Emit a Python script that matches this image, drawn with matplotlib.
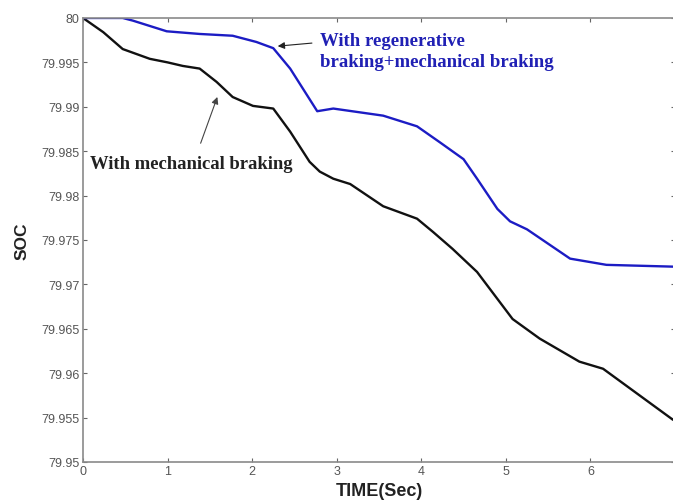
"""SOC over time: regenerative + mechanical braking vs mechanical only."""

import matplotlib
matplotlib.use("Agg")
import matplotlib.pyplot as plt

# Mechanical braking only (black curve)
mech_t = [0.00, 0.24, 0.47, 0.79, 1.00, 1.18, 1.38, 1.58, 1.77, 2.01, 2.25,
          2.45, 2.68, 2.80, 2.96, 3.16, 3.55, 3.95, 4.14, 4.37, 4.66, 5.08,
          5.40, 5.87, 6.15, 6.97]
mech_soc = [80.0000, 79.9984, 79.9965, 79.9954, 79.9950, 79.9946, 79.9943,
            79.9928, 79.9911, 79.9901, 79.9898, 79.9872, 79.9838, 79.9827,
            79.9819, 79.9813, 79.9788, 79.9774, 79.9759, 79.9740, 79.9714,
            79.9661, 79.9639, 79.9613, 79.9605, 79.9548]

# Regenerative + mechanical braking (blue curve)
regen_t = [0.00, 0.47, 0.59, 0.99, 1.38, 1.77, 2.05, 2.25, 2.45, 2.77, 2.96,
           3.55, 3.95, 4.22, 4.50, 4.66, 4.90, 5.05, 5.25, 5.76, 6.19, 6.97]
regen_soc = [80.0000, 80.0000, 79.9997, 79.9985, 79.9982, 79.9980, 79.9973,
             79.9966, 79.9943, 79.9895, 79.9898, 79.9890, 79.9878, 79.9860,
             79.9841, 79.9819, 79.9785, 79.9771, 79.9762, 79.9729, 79.9722,
             79.9720]

x_ticks = [0, 1, 2, 3, 4, 5, 6]
y_ticks = [79.95, 79.955, 79.96, 79.965, 79.97, 79.975, 79.98, 79.985,
           79.99, 79.995, 80.0]
y_tick_labels = ["79.95", "79.955", "79.96", "79.965", "79.97", "79.975",
                 "79.98", "79.985", "79.99", "79.995", "80"]

fig = plt.figure(figsize=(6.73, 5.02), dpi=100)
ax = fig.add_axes([0.1233, 0.0777, 0.8796, 0.8845])

ax.plot(mech_t, mech_soc, color="#111111", lw=1.7)
ax.plot(regen_t, regen_soc, color="#1c1cc4", lw=1.7)

ax.set_xlim(0, 7)
ax.set_ylim(79.95, 80.0)
ax.set_xticks(x_ticks)
ax.set_xticklabels([str(t) for t in x_ticks])
ax.set_yticks(y_ticks)
ax.set_yticklabels(y_tick_labels)

for s in ax.spines.values():
    s.set_color("#8a8a8a")
    s.set_linewidth(1.2)
ax.tick_params(direction="in", length=3, width=0.8, color="#666666",
               top=True, right=True, labelsize=9, labelcolor="#555555", pad=2.5)
for lab in ax.get_xticklabels() + ax.get_yticklabels():
    lab.set_family("Liberation Sans")

ax.set_xlabel("TIME(Sec)", family="Liberation Sans", fontweight="bold",
              fontsize=13, color="#222222")
ax.set_ylabel("SOC", family="Liberation Sans", fontweight="bold",
              fontsize=12.5, color="#222222")
ax.xaxis.set_label_coords(0.5, -0.045)
ax.yaxis.set_label_coords(-0.0895, 0.5)

# annotations
ax.text(2.80, 79.9963, "With regenerative\nbraking+mechanical braking",
        family="Liberation Serif", fontweight="bold", fontsize=13.5,
        color="#2020b4", ha="left", va="center", linespacing=1.3)
ax.annotate("", xy=(2.27, 79.9968), xytext=(2.74, 79.9972),
            arrowprops=dict(arrowstyle="-|>", color="#222222", lw=0.8,
                            mutation_scale=10))

ax.text(0.083, 79.9836, "With mechanical braking",
        family="Liberation Serif", fontweight="bold", fontsize=13.4,
        color="#222222", ha="left", va="center")
ax.annotate("", xy=(1.60, 79.9914), xytext=(1.38, 79.9856),
            arrowprops=dict(arrowstyle="-|>", color="#444444", lw=0.8,
                            mutation_scale=10))

fig.savefig("out.png", dpi=100)
